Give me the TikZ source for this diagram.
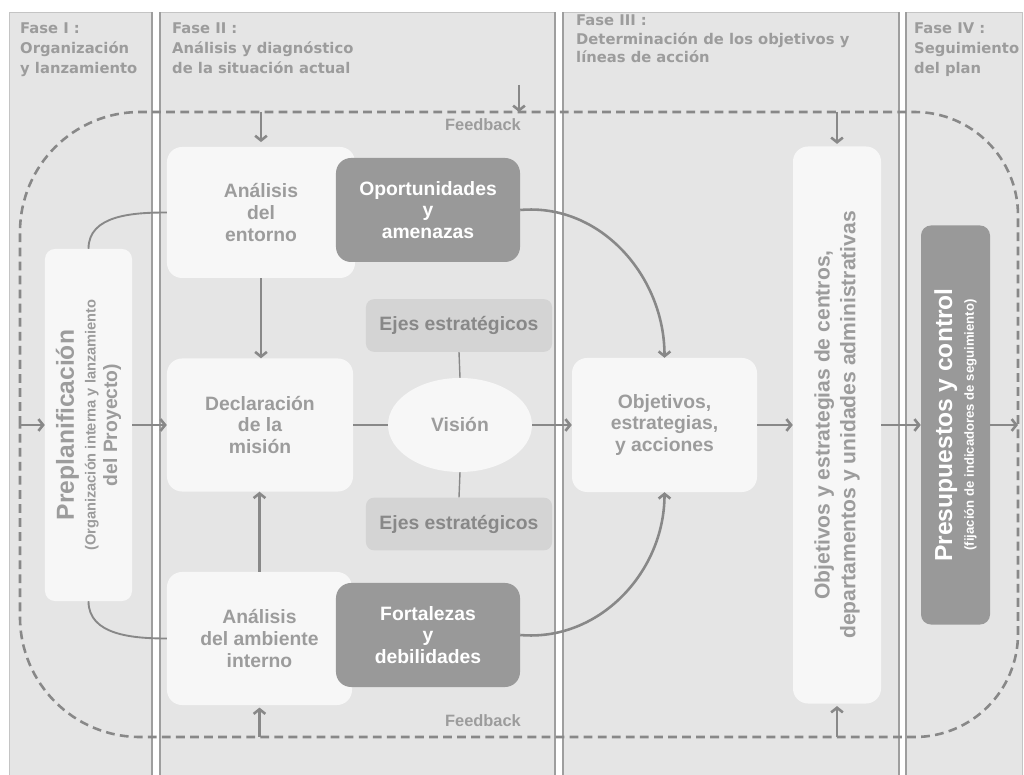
\documentclass[tikz,border=0pt]{standalone}
\usepackage{fontspec}
\setmainfont{Liberation Sans}
\newfontfamily\headfont{DejaVu Sans}
\usetikzlibrary{arrows.meta,shapes.geometric}

\definecolor{panelgray}{HTML}{E5E5E5}
\definecolor{boxlight}{HTML}{F7F7F7}
\definecolor{boxdark}{HTML}{999999}
\definecolor{ejesgray}{HTML}{D4D4D4}
\definecolor{textgray}{HTML}{9C9C9C}
\definecolor{linegray}{HTML}{888888}
\definecolor{sepgray}{HTML}{9E9E9E}
\definecolor{bordergray}{HTML}{C4C4C4}

\begin{document}
\begin{tikzpicture}[x=0.03cm,y=0.03cm,
  panel/.style={fill=panelgray,draw=bordergray,line width=0.8pt},
  separator/.style={draw=sepgray,line width=1pt},
  fase/.style={anchor=north west,align=left,inner sep=0,text=textgray,
    font=\headfont\bfseries\fontsize{12.6}{17}\selectfont},
  lightbox/.style={fill=boxlight,rounded corners=0.45cm,align=center,inner sep=2pt,
    text=textgray,font=\bfseries\fontsize{16.5}{18.5}\selectfont},
  darkbox/.style={fill=boxdark,rounded corners=0.45cm,align=center,inner sep=2pt,
    text=white,font=\bfseries\fontsize{16.5}{18.5}\selectfont,
    minimum width=5.52cm,minimum height=3.12cm},
  ejesbox/.style={fill=ejesgray,rounded corners=0.24cm,text=linegray,
    font=\bfseries\fontsize{16.5}{18.5}\selectfont,minimum width=5.58cm,minimum height=1.58cm},
  flow/.style={draw=linegray,line width=2.2pt,-{Straight Barb[length=4pt,width=10pt]}},
  link/.style={draw=linegray,line width=1.6pt},
  feedback/.style={draw=linegray,line width=2.2pt,dash pattern=on 7.5pt off 4.5pt},
  fbtext/.style={text=textgray,font=\bfseries\fontsize{14}{16}\selectfont}]
\useasboundingbox (0,0) rectangle (1024,775);

% fases
\draw[panel] (9,-5) rectangle (152,763);
\draw[panel] (160,-5) rectangle (555,763);
\draw[panel] (563,-5) rectangle (899,763);
\draw[panel] (906,-5) rectangle (1022,763);
\foreach \sx in {152,160,555,563,899,906}
  \draw[separator] (\sx,0) -- (\sx,763);
\node[fase] (fase1) at (20,752) {Fase I :\\Organización\\y lanzamiento};
\node[fase] (fase2) at (172,752) {Fase II :\\Análisis y diagnóstico\\de la situación actual};
\node[fase,font=\headfont\bfseries\fontsize{12.6}{15.5}\selectfont] (fase3) at (576,760) {Fase III :\\Determinación de los objetivos y\\líneas de acción};
\node[fase] (fase4) at (914,752) {Fase IV :\\Seguimiento\\del plan};

% feedback loop
\draw[feedback,rounded corners=3.6cm] (20,350) |- (519,663)
  [rounded corners=3.1cm] -| (1018,350) |- (519,38)
  [rounded corners=3.6cm] -| (20,350);
\coordinate (fbtop) at (519,663);
\coordinate (fbbot) at (519,38);
\coordinate (fbleft) at (20,350);
\coordinate (fbright) at (1018,350);
\coordinate (fbin) at (519,690);
\node[fbtext] (fbtoplbl) at (483,650) {Feedback};
\node[fbtext] (fbbotlbl) at (483,54) {Feedback};

% nodes
\node[lightbox,rotate=90,minimum width=10.56cm,minimum height=2.61cm,rounded corners=0.3cm] (prep) at (88.5,350)
  {\fontsize{21}{22}\selectfont Preplanificación\\\fontsize{12.5}{13.5}\selectfont (Organización interna y lanzamiento\\del Proyecto)};
\node[lightbox,minimum width=5.64cm,minimum height=3.93cm] (entorno) at (261,562.5) {Análisis\\del\\entorno};
\node[darkbox] (oport) at (428,565) {Oportunidades\\y\\amenazas};
\node[lightbox,minimum width=5.58cm,minimum height=3.99cm] (decl) at (260,350) {Declaración\\de la\\misión};
\node[lightbox,ellipse,minimum width=4.32cm,minimum height=2.82cm,inner sep=0] (vision) at (460,350) {Visión};
\node[ejesbox] (ejes1) at (459,449.5) {Ejes estratégicos};
\node[ejesbox] (ejes2) at (459,251) {Ejes estratégicos};
\node[lightbox,minimum width=5.55cm,minimum height=3.99cm] (ambiente) at (259.5,136.5) {Análisis\\del ambiente\\interno};
\node[darkbox] (fort) at (428,140) {Fortalezas\\y\\debilidades};
\node[lightbox,minimum width=5.55cm,minimum height=4.02cm] (obj) at (664.5,350) {Objetivos,\\estrategias,\\y acciones};
\node[lightbox,rotate=90,minimum width=16.71cm,minimum height=2.64cm,font=\bfseries\fontsize{18}{22}\selectfont] (objcent) at (837,350)
  {Objetivos y estrategias de centros,\\departamentos y unidades administrativas};
\node[darkbox,rotate=90,minimum width=11.97cm,minimum height=2.07cm,rounded corners=0.3cm] (presu) at (955.5,350)
  {\fontsize{21}{21}\selectfont Presupuestos y control\\\fontsize{11.2}{12}\selectfont (fijación de indicadores de seguimiento)};

% connectors
\draw[link] (prep.east) to[out=90,in=180] (entorno.west);
\draw[link] (prep.west) to[out=-90,in=180] (ambiente.west);
\draw[flow] (prep.south) -- (decl.west);
\draw[flow] (entorno.south) -- (entorno.south |- decl.north);
\draw[flow] (ambiente.north) -- (ambiente.north |- decl.south);
\draw[link] (decl.east) -- (vision.west);
\draw[link,line width=1.2pt] (vision.north) -- (ejes1.south);
\draw[link,line width=1.2pt] (vision.south) -- (ejes2.north);
\draw[flow] (vision.east) -- (obj.west);
\draw[flow] (oport.east) to[out=5,in=90] (obj.north);
\draw[flow] (fort.east) to[out=-5,in=-90] (obj.south);
\draw[flow] (obj.east) -- (obj.east -| objcent.north);
\draw[flow] (objcent.south) -- (objcent.south -| presu.north);
\draw[flow] (presu.south) -- (presu.south -| fbright);

% feedback arrows
\draw[flow] (fbleft) -- (prep.north);
\draw[flow] (fbin) -- (fbtop);
\draw[flow,shorten >=4pt] (entorno.north |- fbtop) -- (entorno.north);
\draw[flow,shorten >=2pt] (objcent.east |- fbtop) -- (objcent.east);
\draw[flow,shorten >=2pt] (ambiente.south |- fbbot) -- (ambiente.south);
\draw[flow,shorten >=2pt] (objcent.west |- fbbot) -- (objcent.west);
\end{tikzpicture}
\end{document}
